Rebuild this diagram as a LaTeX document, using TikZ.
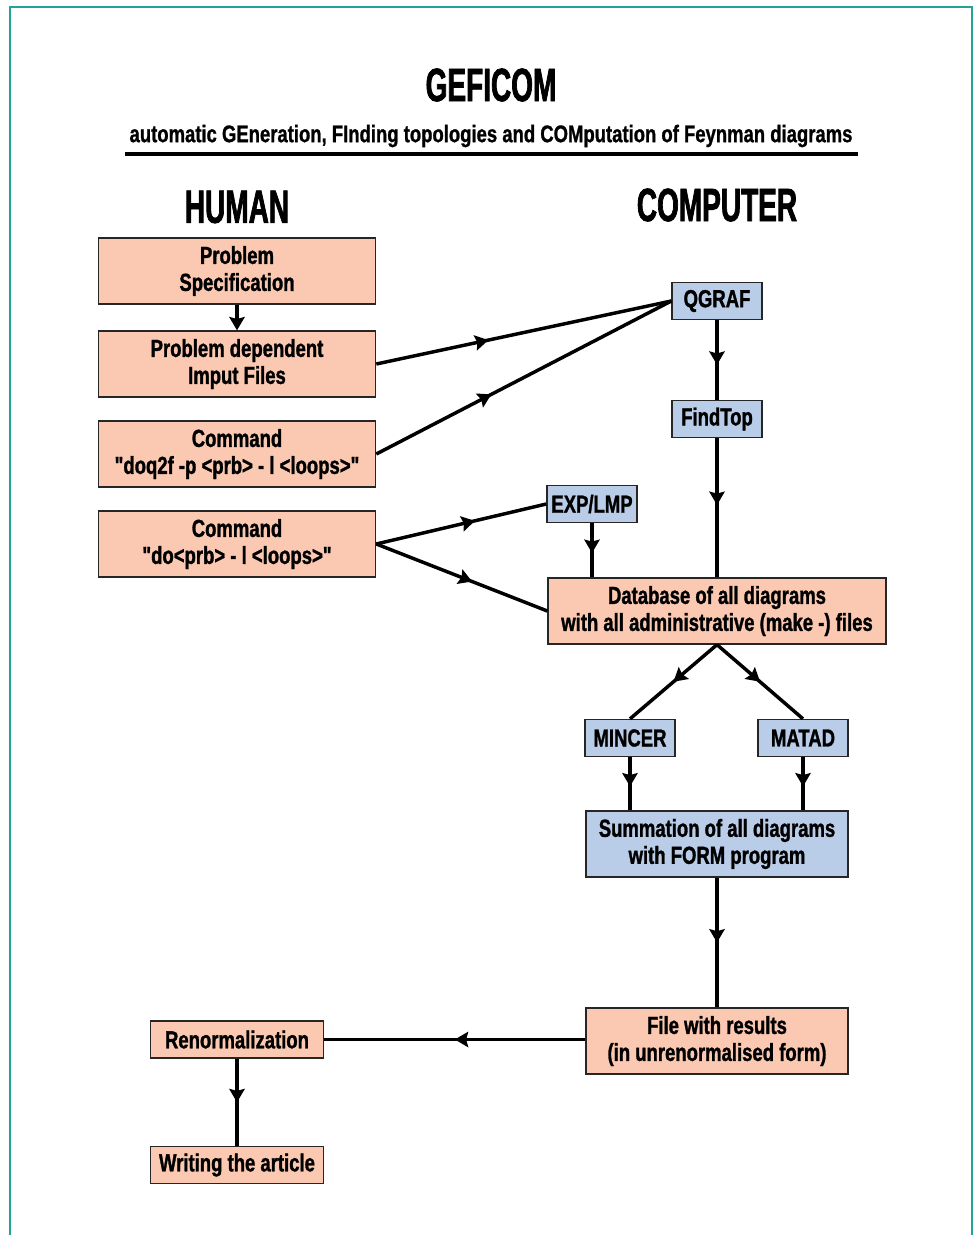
\documentclass[tikz,border=0pt]{standalone}
\usepackage{fontspec}
\newfontfamily\boxfont[FakeStretch=0.75, FakeBold=1.2]{Liberation Sans}
\newfontfamily\headfont[FakeStretch=0.6, FakeBold=1.5]{Liberation Sans}
\newfontfamily\subfont[FakeStretch=0.77, FakeBold=1]{Liberation Sans}
\usetikzlibrary{arrows.meta, positioning, decorations.markings}
\definecolor{salmon}{HTML}{FBC9B1}
\definecolor{skyblue}{HTML}{B9CDE8}
\definecolor{frameteal}{HTML}{22A396}

\begin{document}
\begin{tikzpicture}[x=0.75pt, y=-0.75pt, >=Latex]
\tikzset{
    box/.style={draw=black!85, line width=1pt, inner sep=0pt, align=center,
        font=\boxfont\bfseries\fontsize{18.5}{20.25}\selectfont},
    wide/.style={box, fill=salmon, minimum width=208pt, minimum height=49.5pt},
    small/.style={box, fill=salmon, minimum width=130pt, minimum height=27.75pt},
    tag/.style={box, fill=skyblue, minimum width=67.5pt, minimum height=27.75pt},
    head/.style={font=\headfont\bfseries\fontsize{35}{40}\selectfont},
    flow/.style={line width=2.6pt},
    tip/.style={-{Stealth[length=10pt,width=11.5pt,inset=1.5pt]}},
    midarrow/.style={flow, decoration={markings,
        mark=at position #1 with {\arrow{Stealth[length=10pt,width=11.5pt,inset=1.5pt]}}},
        postaction={decorate}},
    midarrow/.default=0.5,
  }
\useasboundingbox (0,0) rectangle (976,1235);
% frame
\draw[frameteal, line width=1.6pt] (10,1235) -- (10,7) -- (972,7) -- (972,1235);

% titles
\node (title) [head] at (491,85) {GEFICOM};
\node (subtitle) [font=\subfont\bfseries\fontsize{18}{20}\selectfont] at (491,136)
    {automatic GEneration, FInding topologies and COMputation of Feynman diagrams};
\draw[line width=2.4pt] (125,154) -- (858,154);
\node (human) [head] at (237,207) {HUMAN};
\node (computer) [head] at (717,205) {COMPUTER};

% human side
\node (spec) [wide] at (237,271) {Problem\\Specification};
\node (input) [wide] at (237,364) {Problem dependent\\Imput Files};
\node (cmdq) [wide] at (237,454) {Command\\"doq2f -p <prb> - l <loops>"};
\node (cmdo) [wide] at (237,544) {Command\\"do<prb> - l <loops>"};
\node (renorm) [small] at (237,1039.5) {Renormalization};
\node (article) [small] at (237,1165) {Writing the article};

% computer side
\node (qgraf) [tag] at (717,301) {QGRAF};
\node (findtop) [tag] at (717,419) {FindTop};
\node (explmp) [tag] at (592,504) {EXP/LMP};
\node (database) [box, fill=salmon, minimum width=253.5pt, minimum height=49.5pt] at (717,611)
    {Database of all diagrams\\with all administrative (make -) files};
\node (mincer) [tag] at (630,738) {MINCER};
\node (matad) [tag] at (803,738) {MATAD};
\node (summation) [box, fill=skyblue, minimum width=196.5pt, minimum height=49.5pt] at (717,844)
    {Summation of all diagrams\\with FORM program};
\node (results) [box, fill=salmon, minimum width=196.5pt, minimum height=49.5pt] at (717,1041)
    {File with results\\(in unrenormalised form)};

% connectors
\draw[tip, flow] (spec.south) -- (input.north);
\draw[midarrow=0.38] (input.east) -- (qgraf.west);
\draw[midarrow=0.39] (cmdq.east) -- (qgraf.west);
\draw[midarrow=0.58] (cmdo.east) -- (explmp.west);
\draw[midarrow=0.56] (cmdo.east) -- (database.west);
\draw[midarrow=0.56] (qgraf) -- (findtop);
\draw[midarrow=0.48] (findtop) -- (database);
\draw[midarrow=0.55] (explmp.south) -- (explmp.south |- database.north);
\draw[midarrow] (database.south) -- (mincer.north);
\draw[midarrow] (database.south) -- (matad.north);
\draw[midarrow=0.55] (mincer.south) -- (mincer.south |- summation.north);
\draw[midarrow=0.55] (matad.south) -- (matad.south |- summation.north);
\draw[midarrow] (summation) -- (results);
\draw[midarrow] (results.west |- renorm.east) -- (renorm.east);
\draw[midarrow] (renorm) -- (article);
\end{tikzpicture}
\end{document}
